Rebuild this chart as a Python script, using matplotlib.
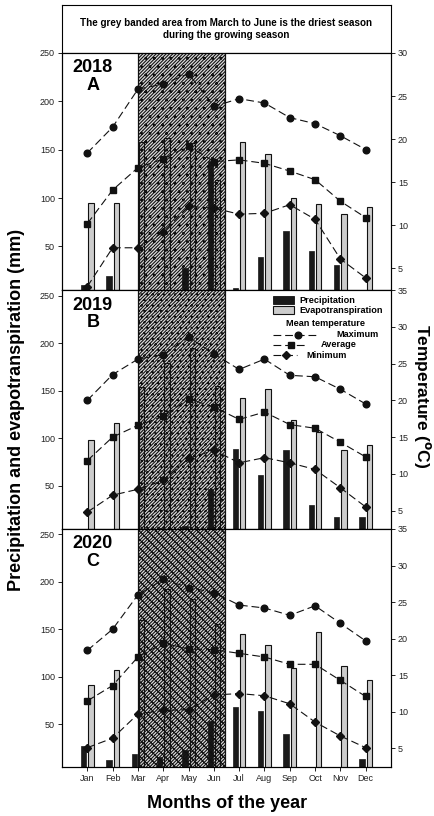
import matplotlib
matplotlib.use("Agg")
import matplotlib.pyplot as plt
from matplotlib.patches import Rectangle
from matplotlib.lines import Line2D
import numpy as np

plt.rcParams['font.family'] = ['Liberation Sans', 'DejaVu Sans']
plt.rcParams['hatch.linewidth'] = 0.8

months = ['Jan', 'Feb', 'Mar', 'Apr', 'May', 'Jun',
          'Jul', 'Aug', 'Sep', 'Oct', 'Nov', 'Dec']

# Monthly precipitation and evapotranspiration (mm)
precip_2018 = [10, 19, 0, 0, 28, 138, 7, 39, 66, 45, 31, 0]
et_2018 = [95, 95, 158, 162, 157, 119, 158, 146, 100, 94, 84, 91]
precip_2019 = [0, 0, 4, 6, 8, 47, 89, 61, 88, 30, 17, 17]
et_2019 = [98, 116, 154, 179, 195, 155, 142, 152, 119, 107, 88, 93]
precip_2020 = [27, 12, 19, 16, 23, 53, 68, 64, 40, 0, 0, 14]
et_2020 = [91, 107, 160, 192, 182, 155, 145, 133, 109, 147, 111, 97]

# Monthly mean temperatures (deg C)
tmax_2018 = [18.4, 21.4, 25.8, 26.4, 27.6, 23.8, 24.7, 24.2, 22.5, 21.8, 20.4, 18.8]
tavg_2018 = [10.2, 14.1, 16.7, 17.7, 19.2, 17.4, 17.6, 17.2, 16.3, 15.3, 12.8, 10.9]
tmin_2018 = [2.9, 7.4, 7.4, 9.2, 12.2, 12.0, 11.3, 11.4, 12.4, 10.7, 6.1, 3.9]
tmax_2019 = [20.0, 23.5, 25.6, 26.2, 28.6, 26.3, 24.2, 25.6, 23.4, 23.2, 21.5, 19.5]
tavg_2019 = [11.8, 15.0, 16.6, 17.8, 20.2, 19.1, 17.4, 18.4, 16.7, 16.2, 14.3, 12.3]
tmin_2019 = [4.8, 7.1, 7.9, 9.1, 12.1, 13.2, 11.5, 12.2, 11.5, 10.6, 8.1, 5.5]
tmax_2020 = [18.4, 21.3, 26.0, 28.1, 27.0, 26.3, 24.6, 24.2, 23.2, 24.5, 22.1, 19.7]
tavg_2020 = [11.5, 13.6, 17.5, 19.4, 18.6, 18.5, 18.0, 17.5, 16.5, 16.5, 14.3, 12.1]
tmin_2020 = [5.1, 6.4, 9.7, 10.2, 10.3, 12.3, 12.5, 12.2, 11.1, 8.6, 6.7, 5.1]

years = ['2018', '2019', '2020']
letters = ['A', 'B', 'C']
precip = [precip_2018, precip_2019, precip_2020]
et = [et_2018, et_2019, et_2020]
tmax = [tmax_2018, tmax_2019, tmax_2020]
tavg = [tavg_2018, tavg_2019, tavg_2020]
tmin = [tmin_2018, tmin_2019, tmin_2020]

dry_start, dry_end = 3.0, 6.46

W, H = 435, 816
fig = plt.figure(figsize=(W / 100, H / 100), dpi=100)

def fx(px):
    return px / W

def fy(py):
    return 1 - py / H

left, right = 62, 391
panels_px = [(53, 290), (290, 529), (529, 766.7)]
left_lims = [(5, 250), (4.5, 256.3), (5.4, 255.3)]
right_lims = [(2.5, 30), (2.5, 35), (2.5, 35)]
right_ticks = [[5, 10, 15, 20, 25, 30], [5, 10, 15, 20, 25, 30, 35], [5, 10, 15, 20, 25, 30, 35]]
hatches = ['//////////..', '//////////...', '//////////\\\\\\\\']

x = np.arange(1, 13)
bw = 0.21
dash = (7, 3.5)
tick_kw = dict(labelsize=6.5, length=3, width=0.7, colors='#222222', direction='out', pad=2)

# Header box with note
hax = fig.add_axes([fx(left), fy(53), fx(right - left), (53 - 5) / H])
hax.set_xticks([])
hax.set_yticks([])
for s in hax.spines.values():
    s.set_linewidth(0.8)
hax.text(0.5, 0.5, 'The grey banded area from March to June is the driest season\nduring the growing season',
         ha='center', va='center', fontsize=7.1, fontweight='bold', linespacing=1.25,
         transform=hax.transAxes)

axes = []
for i in range(3):
    top, bot = panels_px[i]
    ax = fig.add_axes([fx(left), fy(bot), fx(right - left), (bot - top) / H])
    axes.append(ax)
    ax.bar(x - 0.145, precip[i], width=bw, color='#1a1a1a', edgecolor='#1a1a1a', linewidth=0.5, zorder=2)
    ax.bar(x + 0.145, et[i], width=bw, color='#cccccc', edgecolor='#111111', linewidth=0.8, zorder=2)
    # dry-season band: light base under the bars, hatching over them
    ax.add_patch(Rectangle((dry_start, -50), dry_end - dry_start, 400, facecolor='#dcdcdc',
                           edgecolor='none', linewidth=0, zorder=1))
    ax.add_patch(Rectangle((dry_start, -50), dry_end - dry_start, 400, facecolor='none',
                           edgecolor='#111111', hatch=hatches[i], linewidth=0.9, zorder=2.5))
    ax.set_xlim(0, 13)
    ax.set_ylim(*left_lims[i])
    ax.set_yticks([50, 100, 150, 200, 250])
    ax.set_xticks(x)
    ax.tick_params(axis='both', **tick_kw)
    if i < 2:
        ax.set_xticklabels([])
    else:
        ax.set_xticklabels(months)
    for s in ax.spines.values():
        s.set_linewidth(0.8)

    ax2 = ax.twinx()
    ax2.plot(x, tmax[i], linestyle='--', dashes=dash, color='#111111', lw=0.8, marker='o', ms=4.8, zorder=3)
    ax2.plot(x, tavg[i], linestyle='--', dashes=dash, color='#111111', lw=0.8, marker='s', ms=4.5, zorder=3)
    ax2.plot(x, tmin[i], linestyle='--', dashes=dash, color='#111111', lw=0.8, marker='D', ms=4.0, zorder=3)
    ax2.set_ylim(*right_lims[i])
    ax2.set_yticks(right_ticks[i])
    ax2.tick_params(axis='y', **tick_kw)
    for s in ax2.spines.values():
        s.set_linewidth(0.8)

    ax.text(0.094, 0.90, years[i] + '\n' + letters[i], transform=ax.transAxes, ha='center', va='center',
            fontsize=13, fontweight='bold', linespacing=1.05)

# Legend drawn in the 2019 panel
lax = axes[1]
tr = lax.transAxes
lax.add_patch(Rectangle((0.640, 0.941), 0.066, 0.033, transform=tr, facecolor='#1a1a1a',
                        edgecolor='#111111', lw=0.6, zorder=6, clip_on=False))
lax.add_patch(Rectangle((0.640, 0.900), 0.066, 0.033, transform=tr, facecolor='#cccccc',
                        edgecolor='#111111', lw=0.8, zorder=6, clip_on=False))
lax.text(0.722, 0.957, 'Precipitation', transform=tr, fontsize=6.6, fontweight='bold', va='center', zorder=6)
lax.text(0.722, 0.916, 'Evapotranspiration', transform=tr, fontsize=6.6, fontweight='bold', va='center', zorder=6)
lax.text(0.80, 0.858, 'Mean temperature', transform=tr, fontsize=6.6, fontweight='bold', va='center',
         ha='center', zorder=6)
leg_rows = [(0.812, 0.778, 0.716, 'o', 4.8, 0.833, 'Maximum'),
            (0.770, 0.748, 0.695, 's', 4.5, 0.786, 'Average'),
            (0.728, 0.714, 0.681, 'D', 4.0, 0.742, 'Minimum')]
for yy, xe, xm, mk, ms, xt, lab in leg_rows:
    lax.add_line(Line2D([0.641, xe], [yy, yy], transform=tr, color='#111111', lw=0.8,
                        linestyle='--', dashes=dash, zorder=6))
    lax.add_line(Line2D([xm], [yy], transform=tr, color='#111111', marker=mk, ms=ms, zorder=6))
    lax.text(xt, yy, lab, transform=tr, fontsize=6.6, fontweight='bold', va='center', zorder=6)

fig.text(fx(17), fy(410), 'Precipitation and evapotranspiration (mm)', rotation=90, ha='center',
         va='center', fontsize=13, fontweight='bold')
fig.text(fx(423), fy(396), r'Temperature ($\mathbf{^o}$C)', rotation=270, ha='center', va='center',
         fontsize=12.5, fontweight='bold')
fig.text(fx(227), fy(803), 'Months of the year', ha='center', va='center', fontsize=13, fontweight='bold')

fig.savefig('out.png', dpi=100)
